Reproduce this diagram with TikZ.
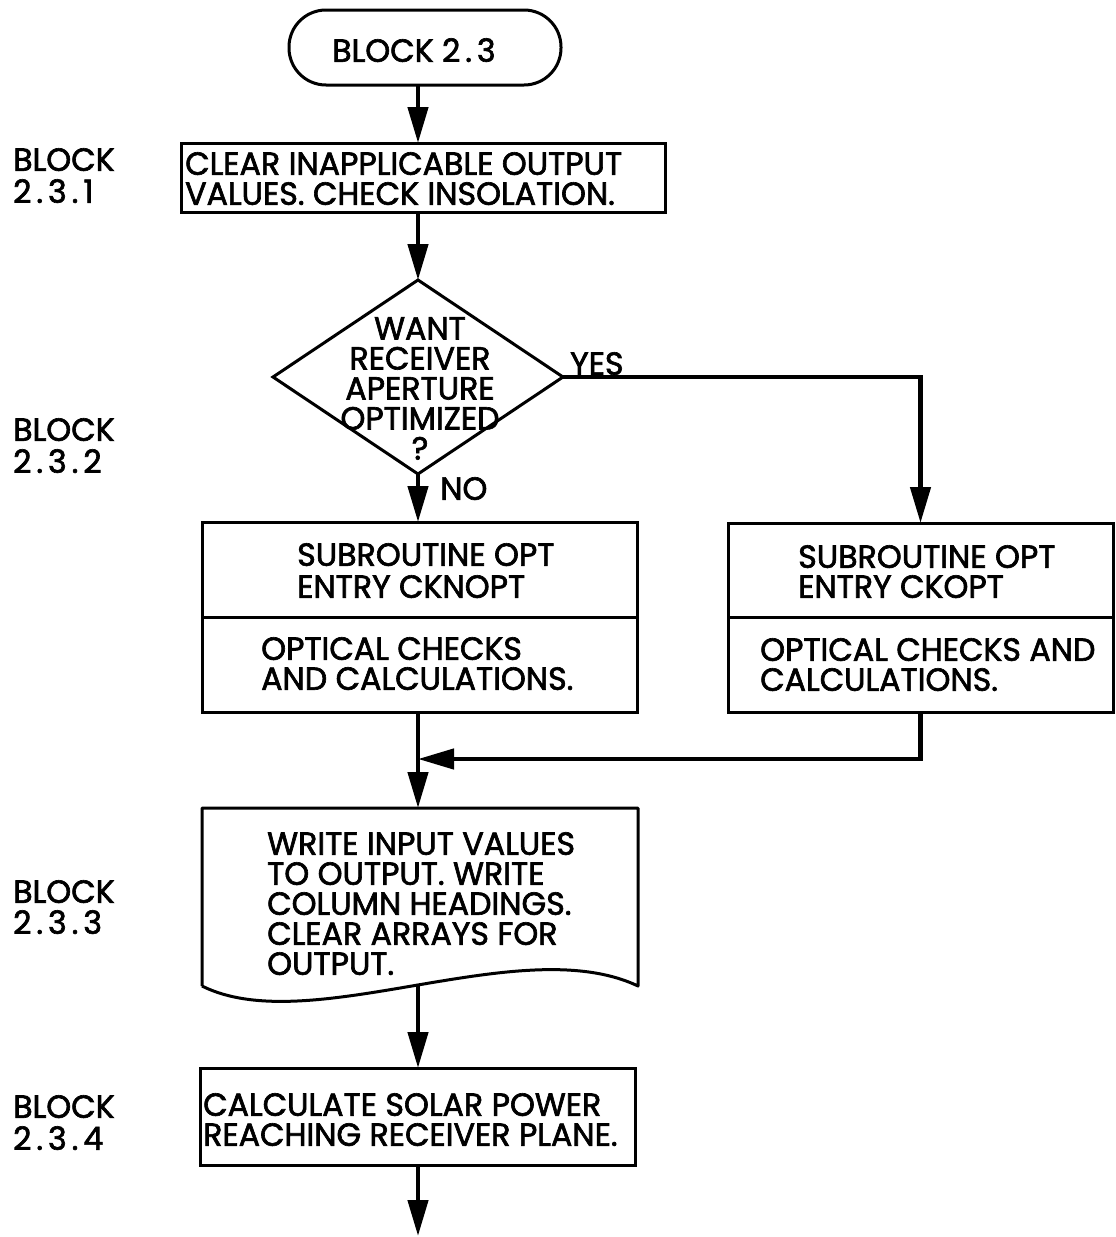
\documentclass[tikz,border=0pt]{standalone}
\usepackage{fontspec}
\setmainfont{Poppins}[FakeStretch=0.99,FakeBold=2]
\newcommand\mydot{\kern5pt.\kern5pt}
\usetikzlibrary{arrows.meta,shapes.geometric}
\begin{document}
\begin{tikzpicture}[x=1pt,y=-1pt,
  box/.style={draw=black,line width=3pt,inner sep=0pt,outer sep=0pt},
  conn/.style={draw=black,line width=4.5pt},
  arr/.style={conn,-{Triangle[length=36pt,width=20pt]}},
  txt/.style={font=\fontsize{32}{30}\selectfont,inner sep=0pt,align=left,anchor=north west},
  ctxt/.style={txt,align=center,anchor=north}]
\useasboundingbox[fill=white] (0,0) rectangle (1116,1237);

% shapes
\node[box,rounded corners=37pt,minimum width=272pt,minimum height=75pt] (start) at (425,47.5) {};
\node[box,minimum width=484pt,minimum height=69pt] (b1) at (423,177.5) {};
\node[box,diamond,minimum width=290pt,minimum height=194pt] (dia) at (418,377) {};
\node[box,minimum width=435pt,minimum height=190pt] (b2) at (419.5,617) {};
\node[box,minimum width=385pt,minimum height=189pt] (b3) at (920.5,617.5) {};
\node[inner sep=0pt,outer sep=0pt,minimum width=436pt,minimum height=178pt] (b4) at (420,897) {};
\node[box,minimum width=435pt,minimum height=97pt] (b5) at (417.5,1116.5) {};

% dividers
\draw[line width=3pt] (b2.west |- 0,617) -- (b2.east |- 0,617);
\draw[line width=3pt] (b3.west |- 0,617) -- (b3.east |- 0,617);
% document shape
\draw[line width=3pt,line join=round] (b4.south west) -- (b4.north west) -- (b4.north east) -- (b4.south east)
  .. controls (520,930) and (310,1040) .. (b4.south west);

% texts
\node[txt] (tstart) at (332,38) {BLOCK 2\mydot 3};
\node[txt] (t1) at (185,152) {CLEAR INAPPLICABLE OUTPUT\\VALUES. CHECK INSOLATION.};
\node[ctxt] (tdia) at (420,317) {WANT\\RECEIVER\\APERTURE\\OPTIMIZED\\?};
\node[txt] (tyes) at (570,352) {YES};
\node[txt] (tno) at (440,477) {NO};
\node[txt] (t2a) at (297,543) {SUBROUTINE OPT\\[2pt]ENTRY CKNOPT};
\node[txt] (t2b) at (261,637) {OPTICAL CHECKS\\AND CALCULATIONS.};
\node[txt] (t3a) at (798,545) {SUBROUTINE OPT\\ENTRY CKOPT};
\node[txt] (t3b) at (760,638) {OPTICAL CHECKS AND\\CALCULATIONS.};
\node[txt] (t4) at (267,832) {WRITE INPUT VALUES\\TO OUTPUT. WRITE\\COLUMN HEADINGS.\\CLEAR ARRAYS FOR\\OUTPUT.};
\node[txt] (t5) at (203,1093) {CALCULATE SOLAR POWER\\REACHING RECEIVER PLANE.};

% side labels
\node[txt] (l1) at (13,148) {BLOCK\\[2pt]2\mydot 3\mydot 1};
\node[txt] (l2) at (13,418) {BLOCK\\[2pt]2\mydot 3\mydot 2};
\node[txt] (l3) at (13,880) {BLOCK\\[1pt]2\mydot 3\mydot 3};
\node[txt] (l4) at (13,1095) {BLOCK\\[2pt]2\mydot 3\mydot 4};

% connectors
\coordinate (j) at (418,759);
\coordinate (b4out) at (418,985);
\coordinate (fin) at (418,1236);
\draw[arr] (dia.north |- start.south) -- (dia.north |- b1.north);
\draw[arr] (dia.north |- b1.south) -- (dia.north);
\draw[arr] (dia.south) -- (dia.south |- b2.north);
\draw[arr] (dia.east) -| (b3.north);
\draw[conn] (dia.south |- b2.south) -- (j);
\draw[arr] (b3.south) |- (j);
\draw[arr] (j) -- (j |- b4.north);
\draw[arr] (b4out) -- (b4out |- b5.north);
\draw[arr] (b4out |- b5.south) -- (fin);
\end{tikzpicture}
\end{document}
